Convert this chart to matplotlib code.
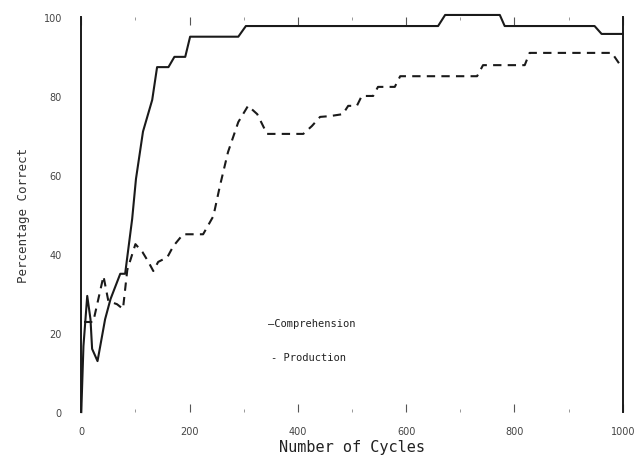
import numpy as np
import matplotlib
matplotlib.use("Agg")
import matplotlib.pyplot as plt

# --- data ---
comp_x = [0, 4, 11, 17, 20, 30, 44, 54, 72, 81, 94, 101, 114, 131, 140, 161, 172,
          192, 201, 290, 304, 659, 672, 773, 782, 948, 961, 1000]
comp_y = [0, 16.7, 29.4, 23.5, 16, 12.9, 23.5, 28.6, 35, 35, 48.9, 59, 71, 79, 87.3,
          87.3, 89.9, 89.9, 95, 95, 97.7, 97.7, 100.5, 100.5, 97.7, 97.7, 95.7, 95.7]

prod_x = [5, 22, 41, 50, 66, 77, 85, 100, 113, 124, 133, 142, 159, 170, 188, 225,
          244, 256, 271, 290, 308, 325, 343, 410, 426, 441, 459, 483, 493, 509, 518,
          539, 548, 579, 589, 731, 742, 819, 828, 980, 994]
prod_y = [22.8, 22.8, 34.4, 28.1, 27.3, 26.1, 36, 42.5, 40.5, 38, 35.7, 38, 39.2, 42,
          45, 45, 49.6, 57.2, 65.8, 73.4, 77.5, 75.4, 70.4, 70.4, 72.4, 74.7, 74.9,
          75.4, 77.5, 77.5, 80, 80, 82.3, 82.3, 85, 85, 87.8, 87.8, 90.9, 90.9, 88.1]

x_ticks = [0, 200, 400, 600, 800, 1000]
y_ticks = [0, 20, 40, 60, 80, 100]

fig = plt.figure(figsize=(6.4, 4.6), dpi=100)
ax = fig.add_axes([0.127, 0.102, 0.846, 0.859])

ink = "#1a1a1a"
ax.plot(comp_x, comp_y, color=ink, lw=1.5, clip_on=False)
ax.plot(prod_x, prod_y, color=ink, lw=1.5, ls=(0, (4, 3)), clip_on=False)

ax.set_xlim(0, 1000)
ax.set_ylim(0, 100)

for side in ["top", "bottom"]:
    ax.spines[side].set_visible(False)
ax.spines["left"].set_color(ink)
ax.spines["right"].set_color(ink)
ax.spines["left"].set_linewidth(1.4)
ax.spines["right"].set_linewidth(1.4)

ax.set_xticks(x_ticks)
ax.set_yticks(y_ticks)
ax.set_xticks(np.arange(0, 1001, 100), minor=True)
ax.tick_params(axis="x", which="major", direction="in", top=True, bottom=True,
               length=6, width=0.8, color="#555555", labelsize=7,
               labelcolor="#444444", pad=10)
ax.tick_params(axis="x", which="minor", direction="in", top=True, bottom=True,
               length=2, width=0.6, color="#888888")
ax.tick_params(axis="y", which="major", length=0, labelsize=7,
               labelcolor="#444444", pad=14)

ax.set_xlabel("Number of Cycles", fontsize=11, family="DejaVu Sans Mono",
              color="#222222", labelpad=2)
ax.set_ylabel("Percentage Correct", fontsize=9, family="DejaVu Sans Mono",
              color="#333333", labelpad=10)

# legend written as plain text, like on the original
ax.text(0.345, 0.225, "\u2014Comprehension", transform=ax.transAxes, fontsize=7.5,
        family="DejaVu Sans Mono", color="#222222", va="center")
ax.text(0.35, 0.14, "- Production", transform=ax.transAxes, fontsize=7.5,
        family="DejaVu Sans Mono", color="#222222", va="center")

fig.savefig("out.png", dpi=100, facecolor="white")
